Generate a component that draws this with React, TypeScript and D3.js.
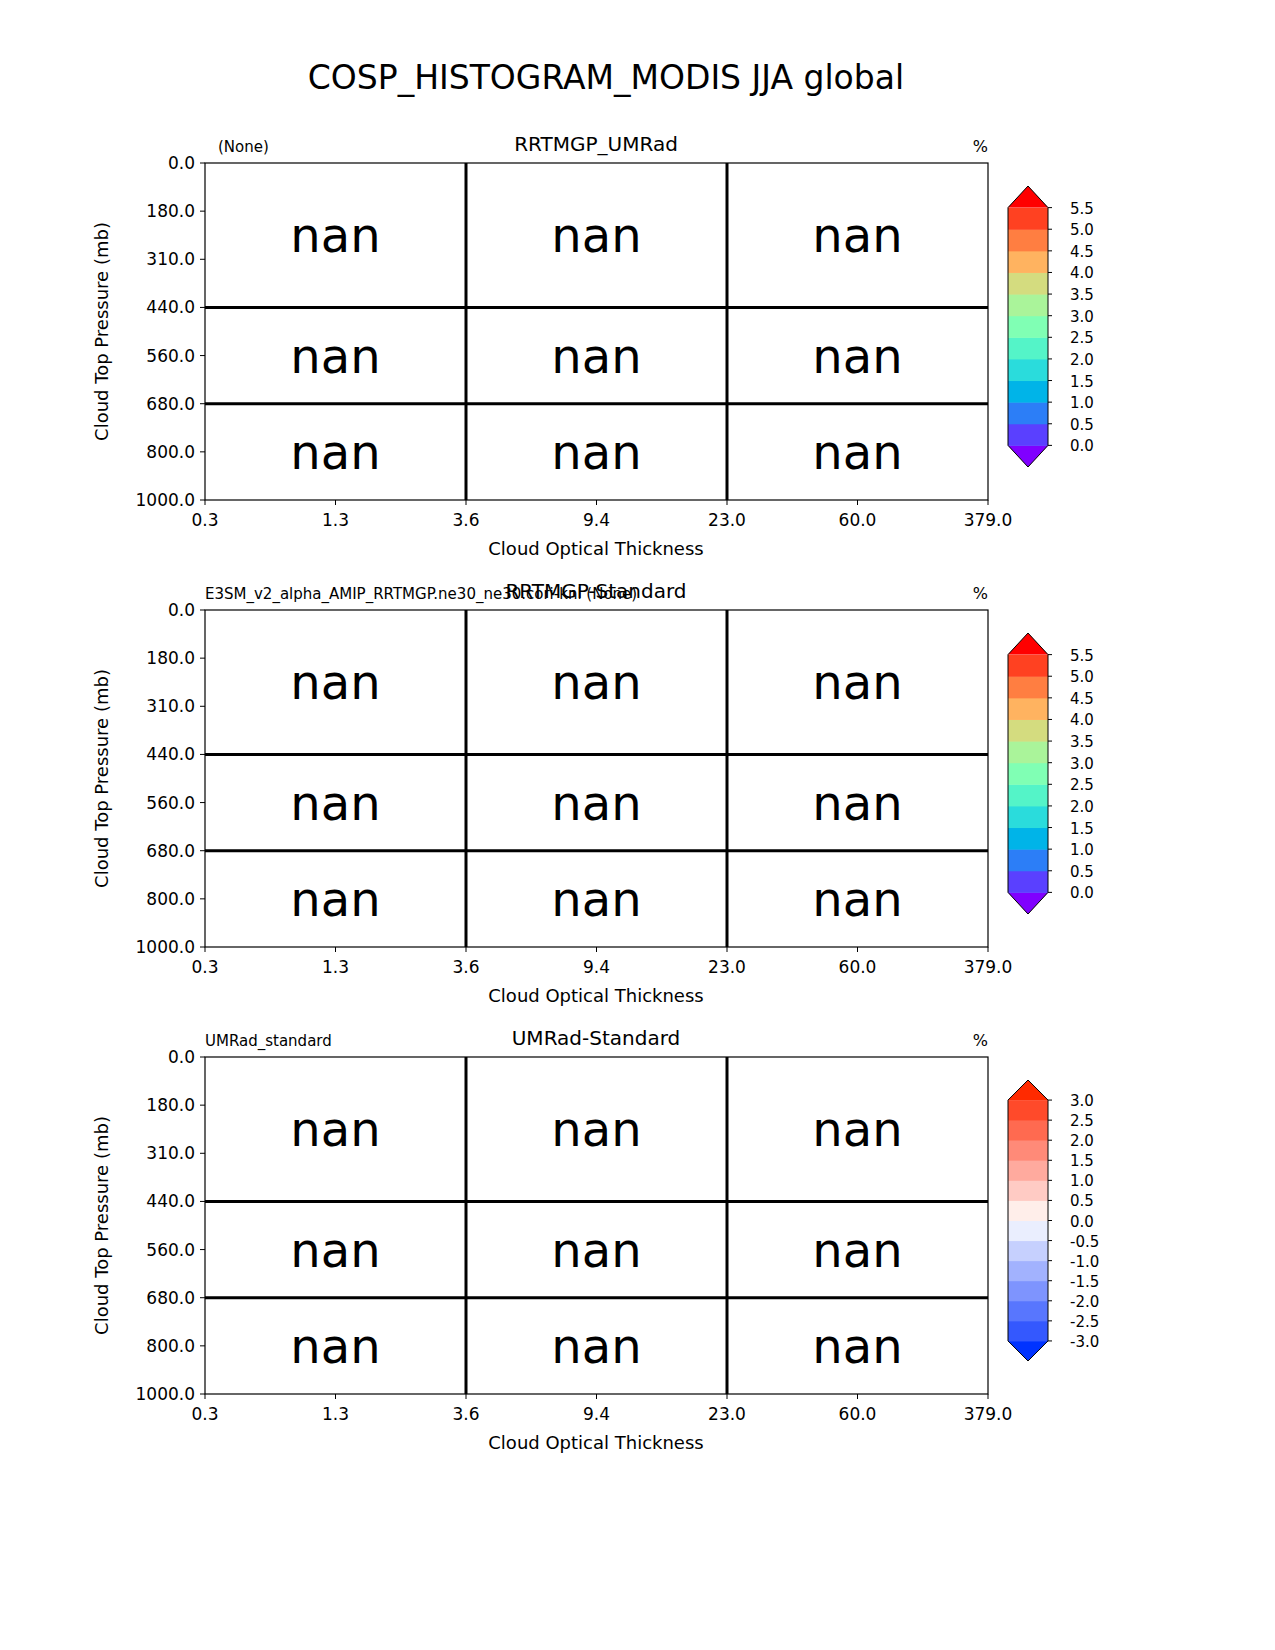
import * as d3 from "d3";

const xTicks = ["0.3", "1.3", "3.6", "9.4", "23.0", "60.0", "379.0"];
const yTicks = ["0.0", "180.0", "310.0", "440.0", "560.0", "680.0", "800.0", "1000.0"];
// cell bounds, as tick indices
const xBins = [0, 2, 4, 6];
const yBins = [0, 3, 5, 7];
const cellValues = [
  ["nan", "nan", "nan"],
  ["nan", "nan", "nan"],
  ["nan", "nan", "nan"],
];

const rainbowLevels = d3.range(0, 5.51, 0.5);
const rainbowColors = ["#8000ff", "#5a40ff", "#2c7ef7", "#00b4e8", "#2adcdc", "#54f4c8", "#80ffb4",
  "#aaf49a", "#d4dc7f", "#ffb360", "#ff7e41", "#ff4121", "#ff0000"];
const diffLevels = d3.range(-3, 3.01, 0.5);
const diffColors = ["#0033ff", "#3458fe", "#5876fe", "#7e94fe", "#a2b2fe", "#c6d0fe", "#eaeefe",
  "#ffeeea", "#ffcbc4", "#ffaa9e", "#ff8a78", "#ff6a50", "#ff4a2a", "#ff2a00"];

const panels = [
  { top: 163, left: "(None)", leftX: 218, center: "RRTMGP_UMRad", levels: rainbowLevels, colors: rainbowColors },
  { top: 610, left: "E3SM_v2_alpha_AMIP_RRTMGP.ne30_ne30.cori-knl (None)", leftX: 205, center: "RRTMGP-Standard", levels: rainbowLevels, colors: rainbowColors },
  { top: 1057, left: "UMRad_standard", leftX: 205, center: "UMRad-Standard", levels: diffLevels, colors: diffColors },
];

const font = "DejaVu Sans, sans-serif";
const L = 205, R = 988, H = 337;

function Panel({ p }: { p: typeof panels[0] }) {
  const x = d3.scaleLinear().domain([0, xTicks.length - 1]).range([L, R]);
  const y = d3.scaleLinear().domain([0, yTicks.length - 1]).range([p.top, p.top + H]);
  const n = p.levels.length;
  const cbTop = p.top + 23, cbBot = p.top + 304;
  const ext = (cbBot - cbTop) / (n + 1);
  const cy = d3.scaleLinear().domain([p.levels[0], p.levels[n - 1]]).range([cbBot - ext, cbTop + ext]);
  const step = p.levels[1] - p.levels[0];
  const cx0 = 1008, cx1 = 1048, cxm = 1028;
  return (
    <g fontFamily={font}>
      <text x={p.leftX} y={p.top - 11} fontSize={15}>{p.left}</text>
      <text x={596} y={p.top - 12} fontSize={20} textAnchor="middle">{p.center}</text>
      <text x={988} y={p.top - 11} fontSize={16} textAnchor="end">%</text>
      <rect x={L} y={p.top} width={R - L} height={H} fill="white" stroke="black" strokeWidth={1.2} />
      {xBins.slice(1, -1).map((b) => (
        <line key={"v" + b} x1={x(b)} x2={x(b)} y1={p.top} y2={p.top + H} stroke="black" strokeWidth={3} />
      ))}
      {yBins.slice(1, -1).map((b) => (
        <line key={"h" + b} x1={L} x2={R} y1={y(b)} y2={y(b)} stroke="black" strokeWidth={3} />
      ))}
      {cellValues.map((row, i) =>
        row.map((v, j) => (
          <text key={i + "-" + j} x={(x(xBins[j]) + x(xBins[j + 1])) / 2} y={(y(yBins[i]) + y(yBins[i + 1])) / 2 + 17}
            fontSize={48} textAnchor="middle">{v}</text>
        ))
      )}
      {xTicks.map((t, i) => (
        <g key={"xt" + i}>
          <line x1={x(i)} x2={x(i)} y1={p.top + H} y2={p.top + H + 5} stroke="black" />
          <text x={x(i)} y={p.top + H + 26} fontSize={17} textAnchor="middle">{t}</text>
        </g>
      ))}
      {yTicks.map((t, i) => (
        <g key={"yt" + i}>
          <line x1={L - 5} x2={L} y1={y(i)} y2={y(i)} stroke="black" />
          <text x={L - 10} y={y(i) + 6} fontSize={17} textAnchor="end">{t}</text>
        </g>
      ))}
      <text x={596} y={p.top + H + 55} fontSize={18} textAnchor="middle">Cloud Optical Thickness</text>
      <text transform={`translate(108,${p.top + H / 2}) rotate(-90)`} fontSize={18} textAnchor="middle">Cloud Top Pressure (mb)</text>
      {/* colorbar */}
      <path d={`M${cx0},${cbBot - ext} L${cxm},${cbBot} L${cx1},${cbBot - ext} Z`} fill={p.colors[0]} />
      {p.levels.slice(0, -1).map((lv, i) => (
        <rect key={"c" + i} x={cx0} width={cx1 - cx0} y={cy(lv + step)} height={cy(lv) - cy(lv + step) + 0.5} fill={p.colors[i + 1]} />
      ))}
      <path d={`M${cx0},${cbTop + ext} L${cxm},${cbTop} L${cx1},${cbTop + ext} Z`} fill={p.colors[p.colors.length - 1]} />
      <path d={`M${cx0},${cbBot - ext} L${cxm},${cbBot} L${cx1},${cbBot - ext} L${cx1},${cbTop + ext} L${cxm},${cbTop} L${cx0},${cbTop + ext} Z`}
        fill="none" stroke="black" strokeWidth={1} />
      {p.levels.map((lv, i) => (
        <g key={"cl" + i}>
          <line x1={cx1} x2={cx1 + 4} y1={cy(lv)} y2={cy(lv)} stroke="black" />
          <text x={1070} y={cy(lv) + 6} fontSize={15}>{lv.toFixed(1)}</text>
        </g>
      ))}
    </g>
  );
}

export default function App() {
  return (
    <svg width={1275} height={1650} style={{ display: "block", background: "white", position: "fixed", top: 0, left: 0 }}>
      <text x={606} y={89} fontSize={33} textAnchor="middle" fontFamily={font}>COSP_HISTOGRAM_MODIS JJA global</text>
      {panels.map((p, i) => <Panel key={i} p={p} />)}
    </svg>
  );
}
